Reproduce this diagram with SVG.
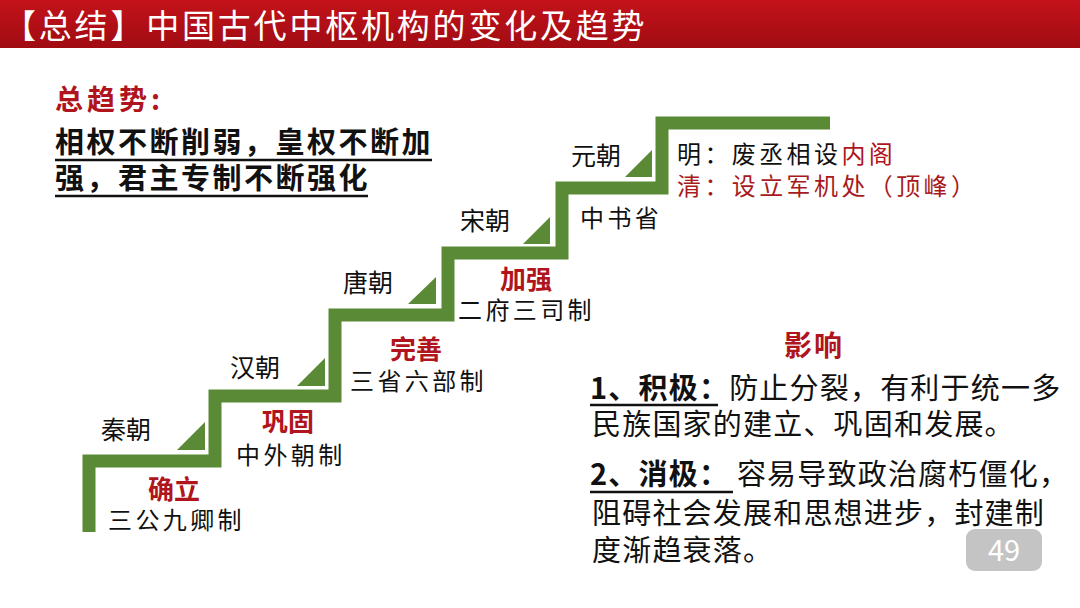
<svg xmlns="http://www.w3.org/2000/svg" width="1080" height="608" viewBox="0 0 1080 608">
<defs>
<linearGradient id="bar" x1="0" y1="0" x2="0" y2="1">
<stop offset="0" stop-color="#c4121a"/>
<stop offset="1" stop-color="#a00c12"/>
</linearGradient>
<style>
text{font-family:"Noto Sans CJK SC","Noto Sans",sans-serif;}
.title{font-size:33px;fill:#fff;letter-spacing:2.8px;}
.red{fill:#b0141c;}
.rb{fill:#b0141c;font-weight:bold;font-size:26px;}
.dyn{font-size:25px;fill:#111;}
.inst{font-size:24px;fill:#111;letter-spacing:3.4px;}
.inst.red{fill:#a81a20;}
.big{font-size:29px;fill:#111;font-weight:bold;letter-spacing:2.5px;}
.body{font-size:29px;fill:#111;letter-spacing:1.2px;}
.ul{stroke:#111;stroke-width:2.5;}
.tri{fill:#5a8a35;}
</style>
</defs>
<rect width="1080" height="608" fill="#fff"/>
<g id="titlebar">
<rect x="0" y="0" width="1080" height="48" fill="url(#bar)"/>
<text class="title" x="3" y="38">【总结】中国古代中枢机构的变化及趋势</text>
</g>
<g id="trend">
<text x="55" y="110" style="font-size:28px;font-weight:bold;letter-spacing:4px;" class="red">总趋势:</text>
<text class="big" x="55" y="153">相权不断削弱，皇权不断加</text>
<line class="ul" x1="55" y1="160" x2="432" y2="160"/>
<text class="big" x="55" y="189">强，君主专制不断强化</text>
<line class="ul" x1="55" y1="196" x2="368" y2="196"/>
</g>
<g id="connectors">
<path d="M89 532 V461 H215 V396 H335 V315 H448 V253 H562 V188 H662 V123 H830" fill="none" stroke="#5a8a35" stroke-width="13" stroke-linejoin="miter"/>
<polygon class="tri" points="177,450 205,450 205,422"/>
<polygon class="tri" points="297,386 325,386 325,358"/>
<polygon class="tri" points="408,304 436,304 436,277"/>
<polygon class="tri" points="523,244 550,244 550,217"/>
<polygon class="tri" points="625,177 652,177 652,150"/>
</g>
<g id="qin">
<text class="dyn" x="101" y="439">秦朝</text>
<text class="rb" x="148" y="499">确立</text>
<text class="inst" x="108" y="529">三公九卿制</text>
</g>
<g id="han">
<text class="dyn" x="230" y="377">汉朝</text>
<text class="rb" x="262" y="431">巩固</text>
<text class="inst" x="236" y="464">中外朝制</text>
</g>
<g id="tang">
<text class="dyn" x="343" y="292">唐朝</text>
<text class="rb" x="390" y="359">完善</text>
<text class="inst" x="350" y="390">三省六部制</text>
</g>
<g id="song">
<text class="dyn" x="460" y="230">宋朝</text>
<text class="rb" x="500" y="289">加强</text>
<text class="inst" x="458" y="319">二府三司制</text>
</g>
<g id="yuan">
<text class="dyn" x="571" y="165">元朝</text>
<text class="inst" x="580" y="227">中书省</text>
</g>
<g id="mingqing">
<text class="inst" x="677" y="163">明：废丞相设<tspan class="red">内阁</tspan></text>
<text class="inst red" x="677" y="195">清：设立军机处（顶峰）</text>
</g>
<g id="impact">
<text x="784" y="356" style="font-size:28px;font-weight:bold;letter-spacing:2px;" class="red">影响</text>
<text class="body" x="590" y="399"><tspan font-weight="bold">1、积极：</tspan>防止分裂，有利于统一多</text>
<line class="ul" x1="590" y1="405" x2="718" y2="405"/>
<text class="body" x="592" y="435">民族国家的建立、巩固和发展。</text>
<text class="body" x="590" y="485"><tspan font-weight="bold">2、消极： </tspan>容易导致政治腐朽僵化，</text>
<line class="ul" x1="590" y1="492" x2="733" y2="492"/>
<text class="body" x="592" y="524">阻碍社会发展和思想进步，封建制</text>
<text class="body" x="592" y="561">度渐趋衰落。</text>
</g>
<g id="page">
<rect x="966" y="529" width="76" height="42" rx="9" fill="#c4c4c4"/>
<text x="1004" y="561" text-anchor="middle" style="font-size:29px;fill:#fff;">49</text>
</g>
</svg>
